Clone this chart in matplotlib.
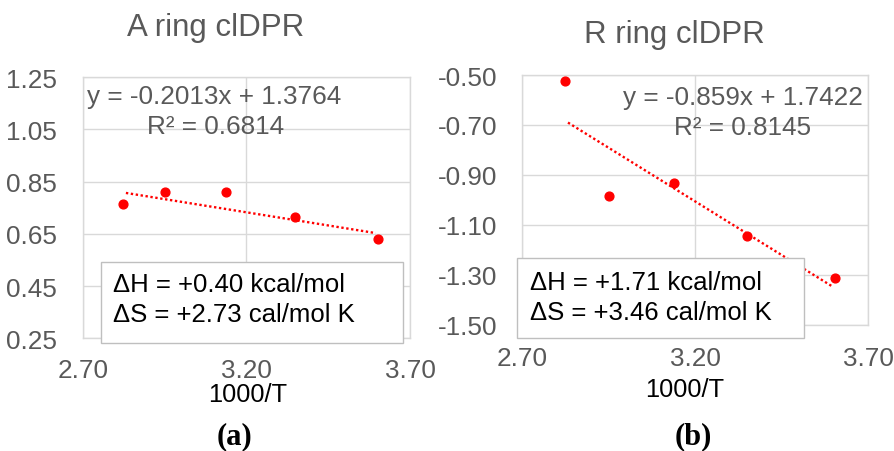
import numpy as np
import matplotlib
matplotlib.use('Agg')
import matplotlib.pyplot as plt
from matplotlib.patches import Rectangle

plt.rcParams['font.family'] = ['Liberation Sans', 'DejaVu Sans']
plt.rcParams['axes.unicode_minus'] = False

# data
inv_t = [2.823, 2.950, 3.137, 3.349, 3.603]
a_ring = [0.765, 0.809, 0.809, 0.714, 0.630]
r_ring = [-0.523, -0.986, -0.934, -1.144, -1.314]

a_fit = (-0.2013, 1.3764)
r_fit = (-0.859, 1.7422)
a_r2 = 0.6814
r_r2 = 0.8145

a_yticks = [0.25, 0.45, 0.65, 0.85, 1.05, 1.25]
r_yticks = [-1.50, -1.30, -1.10, -0.90, -0.70, -0.50]
xticks = [2.70, 3.20, 3.70]

a_box = ['ΔH = +0.40 kcal/mol', 'ΔS = +2.73 cal/mol K']
r_box = ['ΔH = +1.71 kcal/mol', 'ΔS = +3.46 cal/mol K']

W, H = 895, 452
GREY = '#595959'
GRID = '#D9D9D9'
RED = '#FF0000'

fig = plt.figure(figsize=(W / 100, H / 100), dpi=100)


def fx(x):
    return x / W


def fy(y):
    return 1 - y / H


def panel(rect, x, y, fit, r2, yticks, title, title_xy, eq_xy, r2_xy,
          box_rect, box_lines, box_xy, xlab_xy, tag, tag_xy, xpad, ypad):
    l, t, r, b = rect
    ax = fig.add_axes([fx(l), fy(b), fx(r - l), (b - t) / H])
    ax.scatter(x, y, s=40, color=RED, zorder=3)
    xs = np.array([min(x) + 0.009, max(x) - 0.008])
    ax.plot(xs, fit[0] * xs + fit[1], color=RED, linestyle=(0, (1, 1.1)),
            linewidth=1.7, zorder=2)
    ax.set_xlim(xticks[0], xticks[-1])
    ax.set_ylim(yticks[0], yticks[-1])
    ax.set_xticks(xticks)
    ax.set_yticks(yticks)
    ax.set_xticklabels(['%.2f' % v for v in xticks])
    ax.set_yticklabels(['%.2f' % v for v in yticks])
    ax.tick_params(length=0, labelsize=18.8, labelcolor=GREY)
    ax.tick_params(axis='y', pad=ypad)
    ax.tick_params(axis='x', pad=xpad)
    ax.grid(True, color=GRID, linewidth=1)
    ax.set_axisbelow(True)
    for s in ax.spines.values():
        s.set_color(GRID)
        s.set_linewidth(1)

    fig.text(fx(title_xy[0]), fy(title_xy[1]), title, fontsize=22.5, color=GREY,
             ha='center', va='center')
    fig.text(fx(eq_xy[0]), fy(eq_xy[1]),
             'y = %sx + %s' % (('%.4f' % fit[0]).rstrip('0'), ('%.4f' % fit[1]).rstrip('0')),
             fontsize=18.8, color=GREY, ha='left', va='center')
    fig.text(fx(r2_xy[0]), fy(r2_xy[1]), 'R² = %.4f' % r2,
             fontsize=18.8, color=GREY, ha='left', va='center')

    bl, bt, br, bb = box_rect
    fig.add_artist(Rectangle((fx(bl), fy(bb)), fx(br - bl), (bb - bt) / H,
                             transform=fig.transFigure, facecolor='white',
                             edgecolor='#BFBFBF', linewidth=1, zorder=5))
    for i, line in enumerate(box_lines):
        fig.text(fx(box_xy[0]), fy(box_xy[1] + 30 * i), line, fontsize=18.5,
                 color='black', ha='left', va='center', zorder=6)

    fig.text(fx(xlab_xy[0]), fy(xlab_xy[1]), '1000/T', fontsize=18.3,
             color='black', ha='center', va='center')
    fig.text(fx(tag_xy[0]), fy(tag_xy[1]), tag, fontsize=22, fontweight='bold',
             family='Liberation Serif', color='black', ha='center', va='center')
    return ax


panel((82.7, 78, 410, 339.3), inv_t, a_ring, a_fit, a_r2, a_yticks,
      'A ring clDPR', (216, 28), (87, 97), (147, 127),
      (101, 263, 403, 344), a_box, (113, 285), (248, 395), '(a)', (235, 437),
      xpad=14, ypad=18.5)

panel((522.3, 76, 868.3, 325.7), inv_t, r_ring, r_fit, r_r2, r_yticks,
      'R ring clDPR', (674, 35), (623, 98), (674, 128),
      (516.7, 258.7, 803.7, 338.7), r_box, (530, 283), (685, 390), '(b)', (693, 437),
      xpad=15, ypad=18)

fig.savefig('out.png', dpi=100)
